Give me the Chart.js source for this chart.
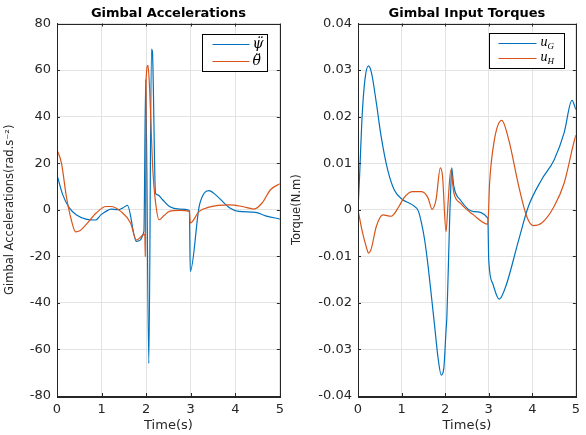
<!DOCTYPE html>
<html><head><meta charset="utf-8">
<script src="https://cdn.jsdelivr.net/npm/chart.js@4/dist/chart.umd.min.js"></script>
<style>
html,body{margin:0;padding:0;background:#fff;}
#wrap{position:relative;width:586px;height:435px;background:#fff;}
.c{position:absolute;top:0;height:435px;}
#c1box{left:0;width:290px;}
#c2box{left:290px;width:296px;}
</style></head><body>
<div id="wrap"><div class="c" id="c1box"><canvas id="c1"></canvas></div><div class="c" id="c2box"><canvas id="c2"></canvas></div></div>
<script>
// ---- Data ----
const titles = ["Gimbal Accelerations", "Gimbal Input Torques"];
const xLabel = "Time(s)";
const yLabels = ["Gimbal Accelerations(rad.s\u207B\u00B2)", "Torque(N.m)"];
const legendLeft = ["\u03C8\u0308", "\u03B8\u0308"];
const legendRight = [["u","G"], ["u","H"]];

const psiT = [0,0.13,0.28,0.43,0.65,0.86,0.99,1.1,1.21,1.36,1.47,1.58,1.78,1.95,1.99,2.06,2.12,2.14,2.21,2.26,2.37,2.52,2.75,2.97,2.99,3.19,3.3,3.41,3.56,3.86,4.08,4.45,4.68,5.0];
const psiV = [15,6.4,0.7,-2.1,-4,-4.4,-2.1,-0.7,0.3,0,0.7,1.9,-13.6,-9.3,56,-66,69,68,7.1,6.4,4.3,1.4,0.3,-0.3,-26.5,1.4,7.1,8.2,6.4,1,-0.7,-1.1,-2.6,-4];

const thetaT = [0,0.1,0.21,0.32,0.42,0.52,0.65,0.88,1.1,1.21,1.43,1.65,1.78,1.97,1.98,2.0,2.04,2.07,2.15,2.2,2.29,2.4,2.52,2.75,2.97,2.99,3.19,3.41,3.86,4.16,4.42,4.6,4.79,5.0];
const thetaV = [25.8,20,5.7,-4.3,-9.5,-8.9,-6.4,-1.4,1.4,1.4,-0.7,-5.7,-13,-10.5,-20,56,62,55,17,5,-4.3,-2.5,-0.7,-0.3,-0.7,-5.7,-0.7,1.1,2.1,1.4,0.3,2.9,8.6,11.2];

const uGT = [0,0.04,0.09,0.16,0.24,0.31,0.42,0.53,0.68,0.83,1.02,1.24,1.39,1.46,1.53,1.61,1.69,1.76,1.84,1.91,1.97,2.02,2.04,2.08,2.11,2.13,2.15,2.17,2.2,2.35,2.65,2.98,3.0,3.09,3.24,3.39,3.69,3.91,4.21,4.5,4.73,4.91,5.0];
const uGV = [0,0.008,0.0194,0.028,0.0309,0.0294,0.023,0.0158,0.0086,0.0043,0.0022,0.0011,-0.0004,-0.003,-0.0065,-0.0122,-0.019,-0.0251,-0.032,-0.0355,-0.034,-0.026,-0.023,-0.01,0.0,0.005,0.009,0.0075,0.005,0.0021,-0.0004,-0.0018,-0.0107,-0.0158,-0.0192,-0.0165,-0.0064,0.0007,0.0064,0.0107,0.0165,0.0235,0.0215];

const uHT = [0,0.09,0.2,0.24,0.3,0.42,0.57,0.76,0.94,1.05,1.24,1.46,1.61,1.7,1.79,1.89,1.94,2.02,2.07,2.13,2.2,2.35,2.65,2.98,3.02,3.13,3.3,3.46,3.69,3.87,4.02,4.21,4.5,4.73,4.95,5.0];
const uHV = [0,-0.0043,-0.0083,-0.0093,-0.0085,-0.0036,-0.0011,-0.0014,0.0007,0.0025,0.0039,0.0039,0.0025,0.0001,0.0021,0.009,0.0072,-0.0047,0.002,0.0085,0.0036,0.0014,-0.0011,-0.0031,0.0057,0.015,0.0192,0.015,0.005,-0.0014,-0.0034,-0.0029,0.0007,0.0057,0.0143,0.016];

const xTicks = [0,1,2,3,4,5];
const accTicks = [-80,-60,-40,-20,0,20,40,60,80];
const torqueTicks = [-0.04,-0.03,-0.02,-0.01,0,0.01,0.02,0.03,0.04];

// ---- Styling ----
const BLUE = '#0072BD', ORANGE = '#D95319', INK = '#262626', GRID = '#e3e3e3';
Chart.defaults.font.family = '"DejaVu Sans", "Liberation Sans", sans-serif';
Chart.defaults.font.size = 13;
Chart.defaults.color = INK;

const pts = (t, v) => t.map((x, i) => ({x: x, y: v[i]}));

const boxPlugin = {
  id: 'matlabBox',
  afterDraw(chart, args, opts) {
    const ctx = chart.ctx, a = chart.chartArea;
    ctx.save();
    // title centred over the plot box
    ctx.fillStyle = '#000';
    ctx.font = 'bold 13px "DejaVu Sans", "Liberation Sans", sans-serif';
    ctx.textAlign = 'center'; ctx.textBaseline = 'middle';
    ctx.fillText(opts.title, (a.left + a.right) / 2, 14);
    // tick marks inward
    ctx.strokeStyle = INK; ctx.lineWidth = 1;
    const xs = chart.scales.x, ys = chart.scales.y;
    ctx.beginPath();
    xs.ticks.forEach(t => { const px = Math.round(xs.getPixelForValue(t.value)) + 0.5;
      ctx.moveTo(px, a.bottom); ctx.lineTo(px, a.bottom - 3);
      ctx.moveTo(px, a.top); ctx.lineTo(px, a.top + 3); });
    ys.ticks.forEach(t => { const py = Math.round(ys.getPixelForValue(t.value)) + 0.5;
      ctx.moveTo(a.left, py); ctx.lineTo(a.left + 3, py);
      ctx.moveTo(a.right, py); ctx.lineTo(a.right - 3, py); });
    ctx.stroke();
    ctx.strokeRect(Math.round(a.left) + 0.5, Math.round(a.top) + 0.5, Math.round(a.right - a.left), Math.round(a.bottom - a.top));
    // legend
    const L = opts;
    const bx = Math.round(a.right - L.inset - L.w) + 0.5, by = Math.round(a.top + L.top) + 0.5;
    ctx.fillStyle = '#fff';
    ctx.fillRect(bx, by, L.w, L.h);
    ctx.strokeStyle = '#000';
    ctx.strokeRect(bx, by, L.w, L.h);
    chart.data.datasets.forEach((ds, i) => {
      const y = by + L.row0 + i * L.rowGap;
      ctx.strokeStyle = ds.borderColor; ctx.lineWidth = 1.2;
      ctx.beginPath(); ctx.moveTo(bx + L.l0, y); ctx.lineTo(bx + L.l1, y); ctx.stroke();
      ctx.fillStyle = '#000';
      ctx.textBaseline = 'middle'; ctx.textAlign = 'left';
      const lab = L.labels[i];
      if (typeof lab === 'string') {
        ctx.font = 'italic 14px "DejaVu Serif", "Liberation Serif", serif';
        ctx.fillText(lab, bx + L.tx, y);
      } else {
        ctx.font = 'italic 14px "Liberation Serif", "DejaVu Serif", serif';
        ctx.fillText(lab[0], bx + L.tx, y - 1);
        const w = ctx.measureText(lab[0]).width;
        ctx.font = 'italic 9px "Liberation Serif", "DejaVu Serif", serif';
        ctx.fillText(lab[1], bx + L.tx + w, y + 3);
      }
    });
    ctx.restore();
  }
};

function makeChart(id, cfg) {
  return new Chart(document.getElementById(id), {
    type: 'line',
    data: { datasets: [
      { data: cfg.d1, borderColor: BLUE, borderWidth: 1.2, pointRadius: 0, cubicInterpolationMode: 'monotone', fill: false, order: 1 },
      { data: cfg.d2, borderColor: ORANGE, borderWidth: 1.2, pointRadius: 0, cubicInterpolationMode: 'monotone', fill: false, order: 0 }
    ]},
    options: {
      responsive: true, maintainAspectRatio: false, animation: false,
      layout: { padding: { left: 0, right: cfg.padRight, top: 23.5, bottom: 0 } },
      plugins: {
        legend: { display: false }, tooltip: { enabled: false },
        title: { display: false },
        matlabBox: cfg.legend
      },
      scales: {
        x: {
          type: 'linear', min: 0, max: 5,
          afterBuildTicks: s => { s.ticks = xTicks.map(v => ({value: v})); },
          ticks: { padding: 6, autoSkip: false, maxRotation: 0, callback: v => String(v) },
          grid: { color: GRID, drawTicks: false },
          border: { color: INK },
          title: { display: true, text: xLabel, padding: { top: 0, bottom: 2 } },
          afterFit: s => { s.height = 39; }
        },
        y: {
          type: 'linear', min: cfg.yTicks[0], max: cfg.yTicks[cfg.yTicks.length - 1],
          afterBuildTicks: s => { s.ticks = cfg.yTicks.map(v => ({value: v})); },
          ticks: { padding: 6, autoSkip: false, callback: cfg.fmt },
          grid: { color: GRID, drawTicks: false },
          border: { color: INK },
          title: { display: true, text: cfg.yLabel, font: { size: 11.5 }, padding: { top: cfg.ytPad, bottom: 0 } },
          afterFit: s => { s.width = cfg.yWidth; }
        }
      }
    },
    plugins: [boxPlugin]
  });
}

makeChart('c1', {
  d1: pts(psiT, psiV), d2: pts(thetaT, thetaV), yLabel: yLabels[0],
  yTicks: accTicks, fmt: v => String(v), yWidth: 57, padRight: 9, ytPad: 3,
  legend: { title: titles[0], w: 65, h: 37, inset: 12.5, top: 10, row0: 10, rowGap: 17, l0: 10, l1: 47, tx: 50, labels: legendLeft }
});
makeChart('c2', {
  d1: pts(uGT, uGV), d2: pts(uHT, uHV), yLabel: yLabels[1],
  yTicks: torqueTicks, fmt: v => (Math.abs(v) < 1e-9 ? '0' : String(Math.round(v * 100) / 100)), yWidth: 68, padRight: 3.5, ytPad: 0,
  legend: { title: titles[1], w: 75, h: 35, inset: 11.5, top: 9, row0: 10, rowGap: 15, l0: 9, l1: 47, tx: 51, labels: legendRight }
});
</script>
</body></html>
